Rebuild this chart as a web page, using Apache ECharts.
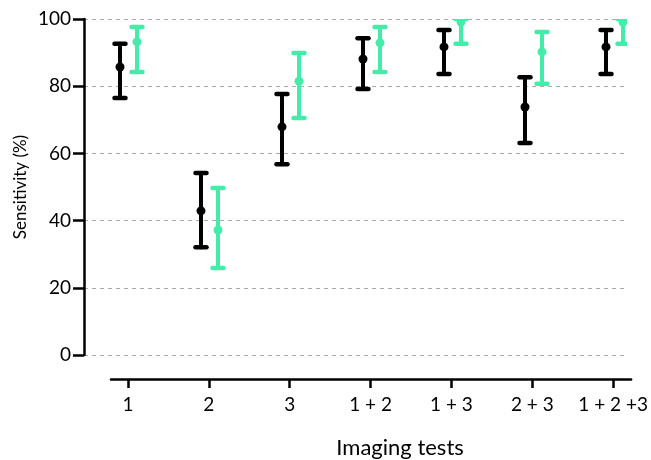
<!DOCTYPE html>
<html>
<head>
<meta charset="utf-8">
<script src="https://cdn.jsdelivr.net/npm/echarts@6/dist/echarts.min.js"></script>
<style>
  html, body { margin: 0; padding: 0; background: #fff; }
  #chart { width: 651px; height: 460px; }
</style>
</head>
<body>
<div id="chart"></div>
<script>
// imaging test combinations
const categories = ["1", "2", "3", "1 + 2", "1 + 3", "2 + 3", "1 + 2 +3"];

// black group: mean with lower / upper bound
const blackMean = [85.7, 42.9, 67.9, 88.1, 91.7, 73.8, 91.7];
const blackLow = [76.5, 32.1, 56.8, 79.2, 83.6, 63.1, 83.6];
const blackHigh = [92.6, 54.2, 77.7, 94.3, 96.7, 82.7, 96.7];

// green group
const greenMean = [93.2, 37.2, 81.5, 92.9, 99.1, 90.2, 99.1];
const greenLow = [84.2, 25.9, 70.5, 84.2, 92.6, 80.7, 92.6];
const greenHigh = [97.6, 49.7, 89.9, 97.6, 100, 96.1, 100];

const xPositions = categories.map((c, i) => i + 1);

const font = "Lato, 'Open Sans', sans-serif";

function toRows(mean, low, high) {
  return mean.map((m, i) => [i + 1, low[i], m, high[i]]);
}

function makeRender(color, shift) {
  return function (params, api) {
    const x = api.value(0);
    const lo = api.coord([x, api.value(1)]);
    const mid = api.coord([x, api.value(2)]);
    const hi = api.coord([x, api.value(3)]);
    const px = lo[0] + shift;
    const style = { stroke: color, lineWidth: 4, lineCap: "round" };
    const capStyle = { stroke: color, lineWidth: 4.5, lineCap: "round" };
    return {
      type: "group",
      children: [
        { type: "line", shape: { x1: px, y1: hi[1], x2: px, y2: lo[1] }, style: style },
        { type: "line", shape: { x1: px - 5.5, y1: hi[1], x2: px + 5.5, y2: hi[1] }, style: capStyle },
        { type: "line", shape: { x1: px - 5.5, y1: lo[1], x2: px + 5.5, y2: lo[1] }, style: capStyle },
        { type: "circle", shape: { cx: px, cy: mid[1], r: 4.5 }, style: { fill: color } },
      ],
    };
  };
}

const chart = echarts.init(document.getElementById("chart"));
const option = {
  animation: false,
  backgroundColor: "#fff",
  textStyle: { fontFamily: font },
  grid: [
    { left: 84, right: 24, top: 19, bottom: 105 },
    { left: 111, right: 19, top: 300, bottom: 78 },
  ],
  xAxis: [
    {
      gridIndex: 0,
      type: "value",
      min: 0.4568,
      max: 7.1605,
      show: false,
      splitLine: { show: false },
    },
    {
      gridIndex: 1,
      type: "value",
      min: 0.7901,
      max: 7.2222,
      position: "bottom",
      splitLine: { show: false },
      axisLine: { show: true, lineStyle: { color: "#000", width: 2.5 } },
      axisTick: {
        show: true,
        length: 9,
        customValues: xPositions,
        lineStyle: { color: "#000", width: 2.5 },
      },
      axisLabel: {
        customValues: xPositions,
        color: "#000",
        fontSize: 19,
        margin: 16,
        fontFamily: font,
        formatter: (v) => categories[Math.round(v) - 1],
      },
      name: "Imaging tests",
      nameLocation: "middle",
      nameGap: 58,
      nameMoveOverlap: false,
      nameTextStyle: { color: "#000", fontSize: 22, fontFamily: font, padding: [0, 0, 0, 58] },
    },
  ],
  yAxis: [
    {
      gridIndex: 0,
      type: "value",
      min: 0,
      max: 100,
      interval: 20,
      axisLine: { show: true, lineStyle: { color: "#000", width: 2.5 } },
      axisTick: { show: true, length: 11, lineStyle: { color: "#000", width: 2.5 } },
      axisLabel: { color: "#000", fontSize: 19, margin: 13, fontFamily: font },
      splitLine: { show: true, lineStyle: { color: "#aaa", width: 1, type: [4, 4] } },
      name: "Sensitivity (%)",
      nameLocation: "middle",
      nameGap: 55,
      nameRotate: 90,
      nameMoveOverlap: false,
      nameTextStyle: { color: "#000", fontSize: 17, fontFamily: font },
    },
    { gridIndex: 1, type: "value", show: false, splitLine: { show: false } },
  ],
  series: [
    {
      type: "custom",
      xAxisIndex: 0,
      yAxisIndex: 0,
      clip: true,
      renderItem: makeRender("#000000", -8),
      encode: { x: 0, y: [1, 2, 3] },
      data: toRows(blackMean, blackLow, blackHigh),
    },
    {
      type: "custom",
      xAxisIndex: 0,
      yAxisIndex: 0,
      clip: true,
      renderItem: makeRender("#45eca9", 9),
      encode: { x: 0, y: [1, 2, 3] },
      data: toRows(greenMean, greenLow, greenHigh),
    },
  ],
};
chart.setOption(option);
</script>
</body>
</html>
